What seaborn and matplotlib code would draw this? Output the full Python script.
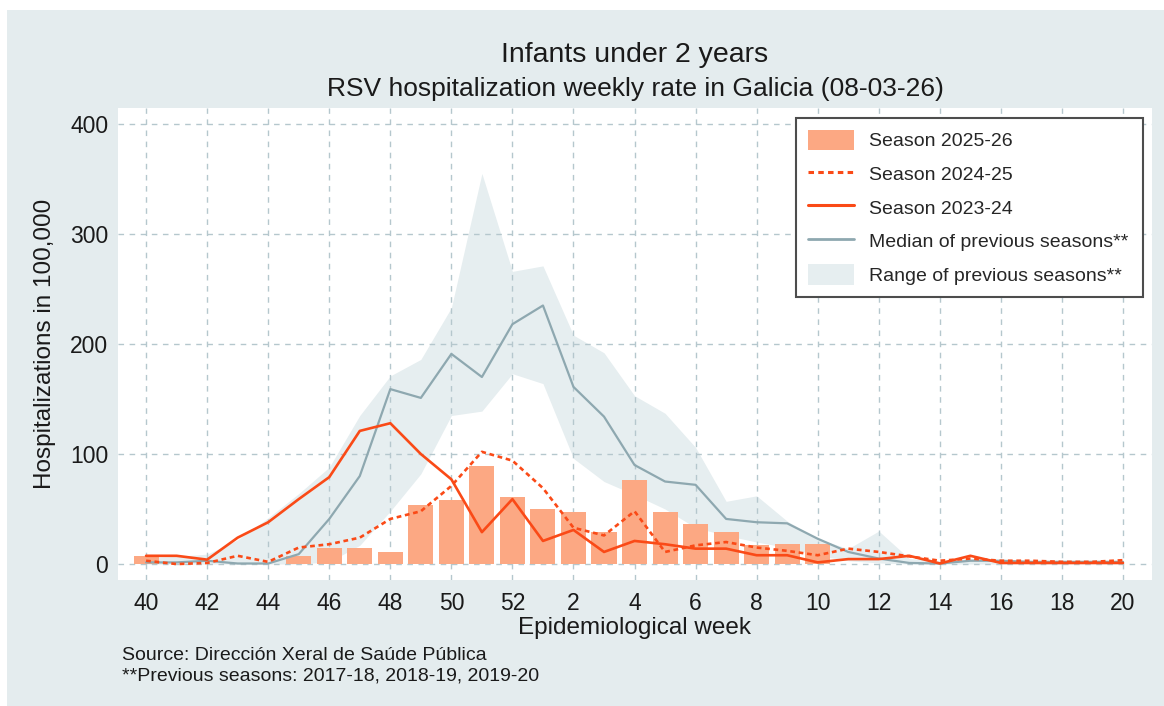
import numpy as np
import pandas as pd
import seaborn as sns
import matplotlib.pyplot as plt
from matplotlib.patches import Rectangle, Patch
from matplotlib.lines import Line2D

# ------------------------------- data ------------------------------- #
weeks = list(range(40, 53)) + list(range(1, 21))

season_2025_26 = [7, 0, 0, 0, 0, 7, 14.5, 14.5, 11, 54, 58, 89, 61,
                  50, 47, 29, 76, 47, 36, 29, 17, 18, 18]

season_2024_25 = [3, 0, 1, 7.5, 2, 15, 18, 24, 41, 48, 71, 102, 94,
                  69, 33, 26, 48, 11, 17, 20, 15, 12, 8, 14, 11, 7, 3, 5, 3, 3, 2, 2, 3.5]

season_2023_24 = [7.5, 7.5, 4, 24, 38, 59, 79, 121, 128, 100, 77, 29, 59,
                  21, 31, 11, 21, 18, 14, 14, 8, 8, 1.5, 4.5, 4.5, 7.5, 0.5, 7.5, 1, 1, 1, 1, 1]

median_prev = [1.5, 1.5, 3, 0.5, 0.5, 9, 41, 80, 159, 151, 191, 170, 218,
               235, 161, 134, 90, 75, 72, 41, 38, 37, 23, 11, 5, 1, 0.5, 3, 3, 2, 2, 2, 2]

range_upper = [6, 7, 9, 22, 42, 64, 88, 135, 171, 186, 233, 355, 266,
               271, 208, 192, 153, 137, 106, 57, 62, 39, 23, 14, 30, 5, 3, 5, 3, 3, 3, 3, 3]

range_lower = [0, 0, 0, 0, 0, 0, 2, 17, 48, 82, 135, 139, 173,
               164, 96, 75, 63, 50, 33, 26, 20, 15, 8, 3, 1, 0, 0, 0, 0, 0, 0, 0, 0]

# ------------------------------ setting ----------------------------- #
bg_color = "#e4ecee"
band_color = "#e6eef0"
bar_color = "#fca883"
red = "#fa4a17"
median_color = "#8ea8b0"
grid_color = "#b5c7cd"

sns.set_theme(style="white")
plt.rcParams['font.family'] = ['Liberation Sans', 'DejaVu Sans']

pos = np.arange(len(weeks))
df_lines = pd.DataFrame({
    "pos": pos,
    "s2425": season_2024_25,
    "s2324": season_2023_24,
    "median": median_prev,
})
df_bars = pd.DataFrame({"pos": pos[:len(season_2025_26)], "value": season_2025_26})

fig = plt.figure(figsize=(11.64, 7.06), dpi=100)
fig.patch.set_facecolor("white")
fig.patches.append(Rectangle((7 / 1164, 0), 1, 1 - 10 / 706, transform=fig.transFigure,
                             facecolor=bg_color, edgecolor="none", zorder=-10))

ax = fig.add_axes([118 / 1164, 126 / 706, 1034 / 1164, 472 / 706])
ax.set_facecolor("white")

# range of previous seasons
ax.fill_between(pos, range_lower, range_upper, color=band_color, linewidth=0, zorder=0.2)

# current season bars
sns.barplot(data=df_bars, x="pos", y="value", native_scale=True, width=0.82,
            color=bar_color, saturation=1, edgecolor="none", ax=ax, zorder=1)

sns.lineplot(data=df_lines, x="pos", y="median", color=median_color, linewidth=1.6, ax=ax, zorder=2)
sns.lineplot(data=df_lines, x="pos", y="s2324", color=red, linewidth=1.9, ax=ax, zorder=3)
sns.lineplot(data=df_lines, x="pos", y="s2425", color=red, linewidth=1.9,
             linestyle=(0, (1.8, 1.4)), ax=ax, zorder=3)

ax.set_xlim(-0.92, 32.95)
ax.set_ylim(-14.5, 414.5)
ax.set_xticks(pos[::2])
ax.set_xticklabels([str(w) for w in weeks[::2]])
ax.set_yticks([0, 100, 200, 300, 400])
ax.tick_params(axis="both", length=0, labelsize=16.5, colors="#1a1a1a")
ax.tick_params(axis="x", pad=9)
ax.tick_params(axis="y", pad=7)

ax.set_axisbelow(True)
ax.grid(True, color=grid_color, linestyle=(0, (4, 4)), linewidth=1)
for s in ax.spines.values():
    s.set_visible(False)

ax.set_xlabel("Epidemiological week", fontsize=17.5, labelpad=1, color="#1a1a1a")
ax.set_ylabel("Hospitalizations in 100,000", fontsize=17.5, labelpad=10, color="#1a1a1a")

handles = [
    Patch(facecolor=bar_color, edgecolor="none"),
    Line2D([], [], color=red, linewidth=2.2, linestyle=(0, (1.8, 1.4))),
    Line2D([], [], color=red, linewidth=2.2),
    Line2D([], [], color=median_color, linewidth=2),
    Patch(facecolor=band_color, edgecolor="none"),
]
labels = ["Season 2025-26", "Season 2024-25", "Season 2023-24",
          "Median of previous seasons**", "Range of previous seasons**"]
leg = ax.legend(handles, labels, loc="upper left",
                bbox_to_anchor=(0.6557, 0.5975, 0.3356, 0.3813), mode="expand",
                borderaxespad=0, fontsize=14, frameon=True, fancybox=False,
                framealpha=1, facecolor="white", edgecolor="#4d4d4d",
                handlelength=2.4, handleheight=1.25, handletextpad=0.75,
                labelspacing=0.66, borderpad=0.6)
leg.get_frame().set_linewidth(1.5)
leg.set_zorder(5)

fig.text(635 / 1164, 1 - 55 / 706, "Infants under 2 years", ha="center", va="center",
         fontsize=20.5, color="#1a1a1a")
fig.text(635 / 1164, 1 - 89 / 706, "RSV hospitalization weekly rate in Galicia (08-03-26)",
         ha="center", va="center", fontsize=19, color="#1a1a1a")
fig.text(122 / 1164, 1 - 656 / 706, "Source: Dirección Xeral de Saúde Pública",
         ha="left", va="center", fontsize=14, color="#1a1a1a")
fig.text(122 / 1164, 1 - 676 / 706, "**Previous seasons: 2017-18, 2018-19, 2019-20",
         ha="left", va="center", fontsize=14, color="#1a1a1a")

plt.savefig("out.png", dpi=100)
